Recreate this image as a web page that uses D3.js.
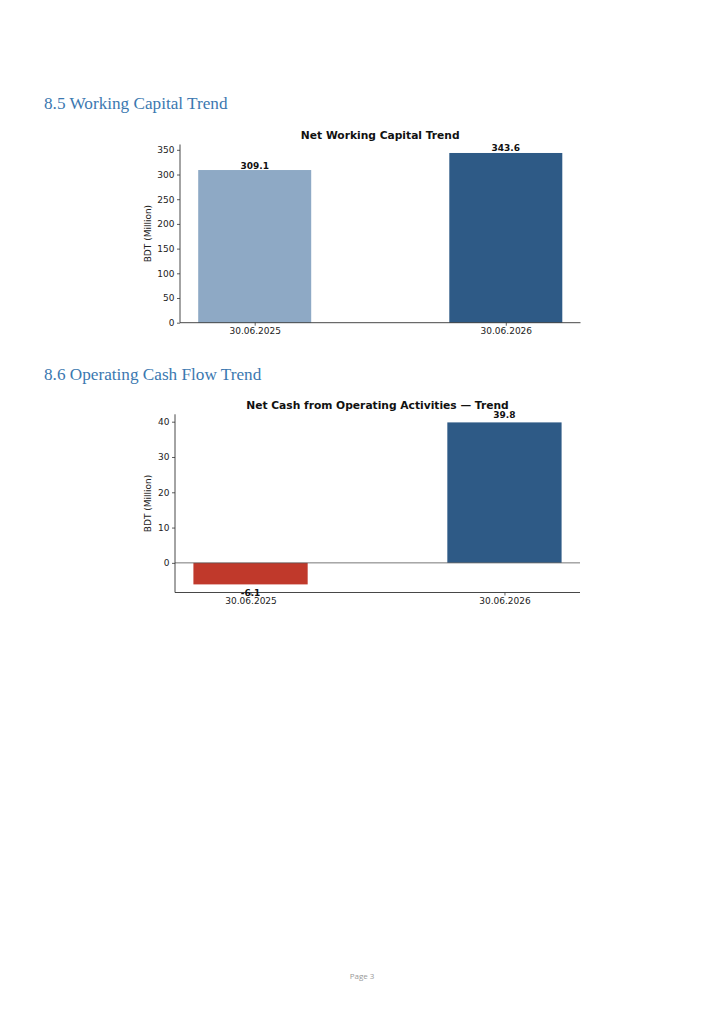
<!DOCTYPE html>
<html>
<head>
<meta charset="utf-8">
<script src="https://cdn.jsdelivr.net/npm/d3@7"></script>
<style>
  html, body { margin: 0; padding: 0; background: #fff; }
  svg { display: block; }
</style>
</head>
<body>
<svg id="page" width="724" height="1024"></svg>
<script>
const periods = ["30.06.2025", "30.06.2026"];
const workingCapital = [309.1, 343.6];
const workingCapitalTicks = [0, 50, 100, 150, 200, 250, 300, 350];
const operatingCash = [-6.1, 39.8];
const operatingCashTicks = [0, 10, 20, 30, 40];

const svg = d3.select("#page");
const sans = "DejaVu Sans, sans-serif";

// section headings
svg.append("text").attr("x", 44).attr("y", 108.5)
  .attr("font-family", "Liberation Serif, serif").attr("font-size", 17.2)
  .attr("fill", "#3b78b0").text("8.5 Working Capital Trend");
svg.append("text").attr("x", 44).attr("y", 379.5)
  .attr("font-family", "Liberation Serif, serif").attr("font-size", 17.2)
  .attr("fill", "#3b78b0").text("8.6 Operating Cash Flow Trend");

svg.append("text").attr("x", 362).attr("y", 978.5).attr("text-anchor", "middle")
  .attr("font-family", "Open Sans, sans-serif").attr("font-size", 8)
  .attr("fill", "#999999").text("Page 3");

drawBars({
  left: 180, right: 580.5, top: 144.5, bottom: 322.7,
  title: "Net Working Capital Trend", titleY: 138.5, labelX: 148,
  values: workingCapital, ticks: workingCapitalTicks,
  colors: ["#8ea9c5", "#2e5a86"], zeroLine: false,
  posOffset: 1.5, negOffset: 12,
});

drawBars({
  left: 175, right: 580, top: 414.3, bottom: 592.5,
  title: "Net Cash from Operating Activities \u2014 Trend", titleY: 408.5, labelX: 148,
  values: operatingCash, ticks: operatingCashTicks,
  colors: ["#c0392b", "#2e5a86"], zeroLine: true,
  posOffset: 4.5, negOffset: 12,
});

function drawBars(cfg) {
  const width = 0.45;
  const n = cfg.values.length;
  const pad = 0.05 * (n - 1 + width);
  const x = d3.scaleLinear()
    .domain([-width / 2 - pad, n - 1 + width / 2 + pad])
    .range([cfg.left, cfg.right]);

  const lo = Math.min(0, d3.min(cfg.values));
  const hi = d3.max(cfg.values);
  const span = hi - lo;
  const yMin = lo < 0 ? lo - 0.05 * span : 0;
  const y = d3.scaleLinear()
    .domain([yMin, hi + 0.05 * span])
    .range([cfg.bottom, cfg.top]);

  const g = svg.append("g");

  g.selectAll("rect.bar").data(cfg.values).enter().append("rect")
    .attr("class", "bar")
    .attr("x", (d, i) => x(i - width / 2))
    .attr("width", (d, i) => x(i + width / 2) - x(i - width / 2))
    .attr("y", (d) => y(Math.max(0, d)))
    .attr("height", (d) => Math.abs(y(d) - y(0)))
    .attr("fill", (d, i) => cfg.colors[i]);

  if (cfg.zeroLine) {
    g.append("line")
      .attr("x1", cfg.left).attr("x2", cfg.right)
      .attr("y1", y(0)).attr("y2", y(0))
      .attr("stroke", "#555").attr("stroke-width", 0.8);
  }

  const yAxis = g.append("g")
    .attr("transform", `translate(${cfg.left},0)`)
    .call(d3.axisLeft(y).tickValues(cfg.ticks).tickSize(3).tickPadding(2.5).tickFormat(d3.format("d")));
  const xAxis = g.append("g")
    .attr("transform", `translate(0,${cfg.bottom})`)
    .call(d3.axisBottom(x).tickValues(d3.range(n)).tickSize(3).tickPadding(2).tickFormat((d) => periods[d]));

  [yAxis, xAxis].forEach((a) => {
    a.select(".domain").attr("stroke", "#333").attr("stroke-width", 0.9)
      .attr("d", a === yAxis ? `M0,${cfg.bottom}V${cfg.top}` : `M${cfg.left},0H${cfg.right}`);
    a.selectAll(".tick line").attr("stroke", "#333").attr("stroke-width", 0.8);
    a.selectAll(".tick text").attr("fill", "#222").attr("font-family", sans).attr("font-size", 9);
  });

  g.append("text")
    .attr("transform", `translate(${cfg.labelX},${(cfg.top + cfg.bottom) / 2}) rotate(-90)`)
    .attr("text-anchor", "middle").attr("dy", "0.35em")
    .attr("font-family", sans).attr("font-size", 9).attr("fill", "#222")
    .text("BDT (Million)");

  g.append("text")
    .attr("x", (cfg.left + cfg.right) / 2).attr("y", cfg.titleY)
    .attr("text-anchor", "middle")
    .attr("font-family", sans).attr("font-weight", "bold").attr("font-size", 10.7)
    .attr("fill", "#111").text(cfg.title);

  g.selectAll("text.val").data(cfg.values).enter().append("text")
    .attr("class", "val")
    .attr("x", (d, i) => x(i))
    .attr("y", (d) => d >= 0 ? y(d) - cfg.posOffset : y(d) + cfg.negOffset)
    .attr("text-anchor", "middle")
    .attr("font-family", sans).attr("font-weight", "bold").attr("font-size", 9)
    .attr("fill", "#111")
    .text((d) => d.toFixed(1));
}
</script>
</body>
</html>
